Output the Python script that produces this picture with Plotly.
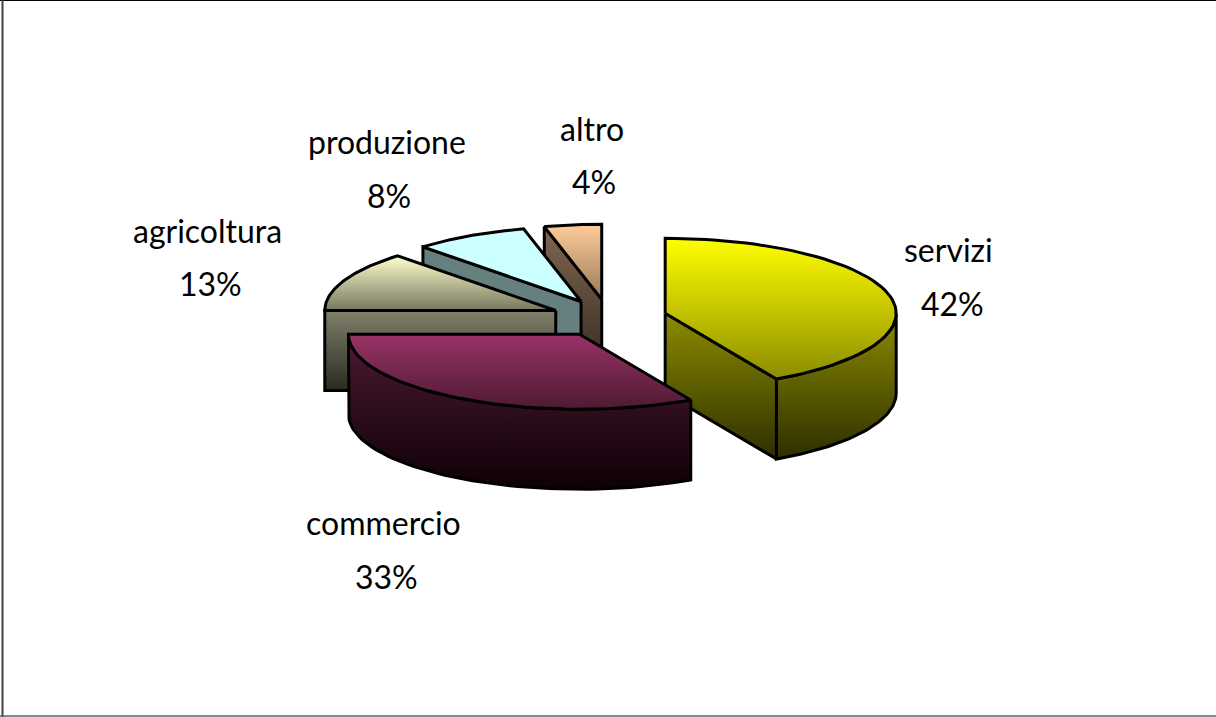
import numpy as np
import plotly.graph_objs as go

# Exploded 3D pie, settori di attivita

categories = ['servizi', 'commercio', 'agricoltura', 'produzione', 'altro']
values = [42, 33, 13, 8, 4]

# colours of each slice: top surface and wall, upper and lower end of the gradient
top_hi = ['#ffff00', '#993366', '#ffffcc', '#ccffff', '#ffcc99']
top_lo = ['#8c8c00', '#4d1a33', '#77775f', '#ccffff', '#997a5c']
wall_hi = ['#8c8c00', '#4d1a33', '#80806b', '#668080', '#806650']
wall_lo = ['#2e2e00', '#0d0006', '#2a2a22', '#668080', '#33281e']

label_x = [948, 383, 207, 387, 592]
label_y = [249, 522, 230, 141, 128]
pct_x = [952, 386, 210, 389, 594]
pct_y = [303, 576, 283, 195, 181]

# pie geometry in page pixels
cx, cy = 609, 318
rx, ry = 231, 75
depth = 80
explode = 58

FONT = dict(family='Lato', size=32, color='black')


def arc(a0, a1, ox, oy):
    t = np.radians(np.linspace(a0, a1, 60))
    return ox + rx*np.sin(t), oy - ry*np.cos(t)


def poly(x, y, c_hi, c_lo, y0, y1):
    return go.Scatter(x=list(x), y=list(y), mode='lines', fill='toself',
                      line=dict(color='black', width=3),
                      fillgradient=dict(type='vertical', start=y0, stop=y1,
                                        colorscale=[[0, c_hi], [1, c_lo]]),
                      hoverinfo='skip', showlegend=False)


starts = np.cumsum([0] + values[:-1])*3.6
ends = np.cumsum(values)*3.6
mids = (starts + ends)/2

data = []
# back to front
for i in sorted(range(len(values)), key=lambda k: -np.cos(np.radians(mids[k]))):
    a0, a1 = starts[i], ends[i]
    ox = cx + explode*np.sin(np.radians(mids[i]))
    oy = cy - explode*ry/rx*np.cos(np.radians(mids[i]))

    walls = []
    # radial walls that face the viewer
    for a, facing in ((a0, np.sin(np.radians(a0)) < -1e-6), (a1, np.sin(np.radians(a1)) > 1e-6)):
        if facing:
            ex = ox + rx*np.sin(np.radians(a))
            ey = oy - ry*np.cos(np.radians(a))
            walls.append(([ox, ex, ex, ox, ox], [oy, ey, ey+depth, oy+depth, oy]))

    # outer wall, front half only
    b0, b1 = max(a0, 90), min(a1, 270)
    if b1 > b0:
        ax, ay = arc(b0, b1, ox, oy)
        walls.append((np.r_[ax, ax[::-1], ax[0]], np.r_[ay, ay[::-1]+depth, ay[0]]))

    wy0 = min(min(w[1]) for w in walls)
    wy1 = max(max(w[1]) for w in walls)
    for wx, wy in walls:
        data.append(poly(wx, wy, wall_hi[i], wall_lo[i], wy0, wy1))

    tx, ty = arc(a0, a1, ox, oy)
    data.append(poly(np.r_[ox, tx, ox], np.r_[oy, ty, oy], top_hi[i], top_lo[i],
                     min(ty.min(), oy), max(ty.max(), oy)))

annotations = []
for i, name in enumerate(categories):
    annotations.append(dict(x=label_x[i], y=label_y[i], text=name, showarrow=False, font=FONT))
    annotations.append(dict(x=pct_x[i], y=pct_y[i], text=str(values[i]) + '%', showarrow=False, font=FONT))

# page frame
shapes = [
    dict(type='line', xref='paper', yref='paper', x0=0, x1=1, y0=0.9995, y1=0.9995,
         line=dict(color='black', width=1.5)),
    dict(type='line', xref='x', yref='paper', x0=2.5, x1=2.5, y0=0, y1=1,
         line=dict(color='#404040', width=2)),
    dict(type='line', xref='paper', yref='y', x0=0, x1=1, y0=716, y1=716,
         line=dict(color='#606060', width=1.5)),
]

layout = go.Layout(width=1216, height=717, margin=dict(l=0, r=0, t=0, b=0),
                   paper_bgcolor='white', plot_bgcolor='white',
                   xaxis=dict(range=[0, 1216], visible=False, fixedrange=True),
                   yaxis=dict(range=[717, 0], visible=False, fixedrange=True),
                   annotations=annotations, shapes=shapes, showlegend=False)

fig = go.Figure(data=data, layout=layout)
fig.write_html("out.html", config=dict(displayModeBar=False),
               post_script="document.body.style.margin='0';")
